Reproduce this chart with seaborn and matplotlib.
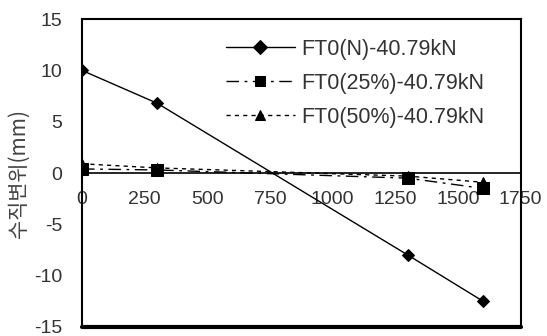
import matplotlib
matplotlib.use("Agg")
import matplotlib.pyplot as plt
import seaborn as sns
import pandas as pd

x_vals = [0, 300, 1300, 1600]
y_n = [10.0, 6.8, -8.0, -12.5]
y_25 = [0.4, 0.3, -0.5, -1.5]
y_50 = [0.9, 0.5, -0.3, -0.9]
labels = ["FT0(N)-40.79kN", "FT0(25%)-40.79kN", "FT0(50%)-40.79kN"]
x_ticks = [0, 250, 500, 750, 1000, 1250, 1500, 1750]
y_ticks = [-15, -10, -5, 0, 5, 10, 15]
y_label = "수직변위(mm)"

rows = []
for lab, ys in zip(labels, [y_n, y_25, y_50]):
    for xv, yv in zip(x_vals, ys):
        rows.append({"x": xv, "y": yv, "series": lab})
df = pd.DataFrame(rows)

sns.set_style("white")
plt.rcParams['font.family'] = ['Liberation Sans', 'Noto Sans CJK KR', 'DejaVu Sans']
plt.rcParams['axes.unicode_minus'] = False
txt = '#333333'

fig = plt.figure(figsize=(5.47, 3.36), dpi=100)
ax = fig.add_axes([0.150, 0.027, 0.802, 0.916])

sns.lineplot(data=df, x="x", y="y", hue="series", style="series",
             palette=["black"] * 3,
             markers={labels[0]: "D", labels[1]: "s", labels[2]: "^"},
             dashes={labels[0]: "", labels[1]: (9, 4, 2, 4), labels[2]: (3, 3)},
             linewidth=1.0, markersize=7, ax=ax, legend=True)
for ln, ms, z in zip(ax.lines, [6, 9, 7], [4, 5, 3]):
    ln.set_markersize(ms)
    ln.set_markeredgecolor('black')
    ln.set_zorder(z)

ax.set_xlim(0, 1750)
ax.set_ylim(-15, 15)
ax.set_xticks(x_ticks)
ax.set_yticks(y_ticks)
ax.spines['bottom'].set_position(('data', 0))
for s in ax.spines.values():
    s.set_color('black')
    s.set_linewidth(1.5)
ax.spines['bottom'].set_linewidth(1.2)
ax.axhline(-15, color='black', lw=3.0, clip_on=False)
ax.tick_params(axis='both', direction='in', length=5, width=1, colors='black',
               labelcolor=txt, labelsize=14)
ax.tick_params(axis='x', pad=13)
ax.tick_params(axis='y', pad=14)
ax.set_xlabel("")
ax.set_ylabel(y_label, fontsize=15, color='#444444', family=['Noto Sans CJK KR', 'DejaVu Sans'])
ax.yaxis.set_label_coords(-0.12, 0.5)

h, l = ax.get_legend_handles_labels()
for hh in h:
    hh.set_markeredgecolor('black')
leg = ax.legend(h, l, loc='upper left', bbox_to_anchor=(0.293, 0.985), frameon=False,
                fontsize=15.5, handlelength=3.2, labelspacing=0.6, handletextpad=0.33,
                borderpad=0.2)
for t in leg.get_texts():
    t.set_color(txt)

fig.savefig("out.png", dpi=100)
